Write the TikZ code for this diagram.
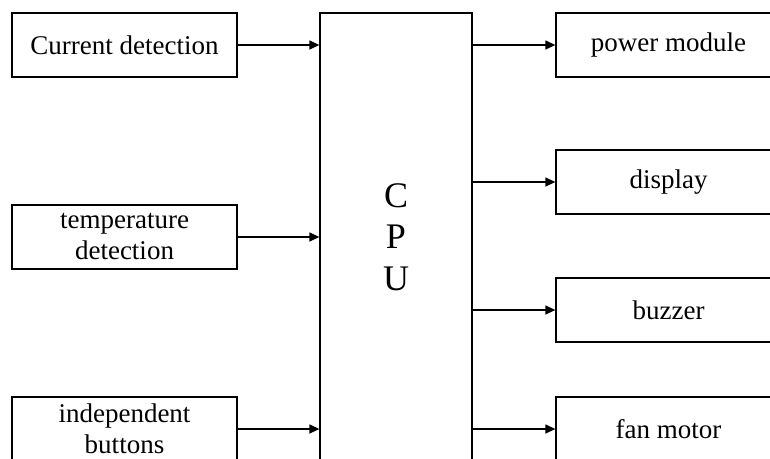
\documentclass[tikz,border=0pt]{standalone}
\usepackage{fontspec}
\setmainfont{Liberation Serif}
\usetikzlibrary{arrows.meta}
\tikzset{
    blk/.style={draw,line width=1.3pt,minimum width=225pt,minimum height=64pt,
        inner sep=0pt,align=center,font=\fontsize{27}{31}\selectfont},
    arr/.style={line width=1.3pt,-{Triangle[length=10pt,width=9pt]}}
}
\begin{document}
\begin{tikzpicture}[x=1pt,y=-1pt]
    \useasboundingbox (0,0) rectangle (770,458);
    \clip (0,0) rectangle (770,458);
    % inputs
    \node[blk] (cur) at (124.5,45) {Current detection};
    \node[blk] (temp) at (124.5,237) {temperature\\detection};
    \node[blk] (btn) at (124.5,429) {independent\\buttons};
    % controller
    \node[draw,line width=1.3pt,minimum width=152pt,minimum height=448pt,inner sep=0pt,
        align=center,font=\fontsize{36}{41.5}\selectfont] (cpu) at (396,237) {C\\P\\U};
    % outputs
    \node[blk] (pwr) at (668.5,45) {power module};
    \node[blk] (disp) at (668.5,182) {display};
    \node[blk] (buz) at (668.5,310) {buzzer};
    \node[blk] (fan) at (668.5,429) {fan motor};
    \foreach \s in {cur,temp,btn} \draw[arr] (\s.east) -- (\s.east -| cpu.west);
    \foreach \t in {pwr,disp,buz,fan} \draw[arr] (cpu.east |- \t.west) -- (\t.west);
\end{tikzpicture}
\end{document}
